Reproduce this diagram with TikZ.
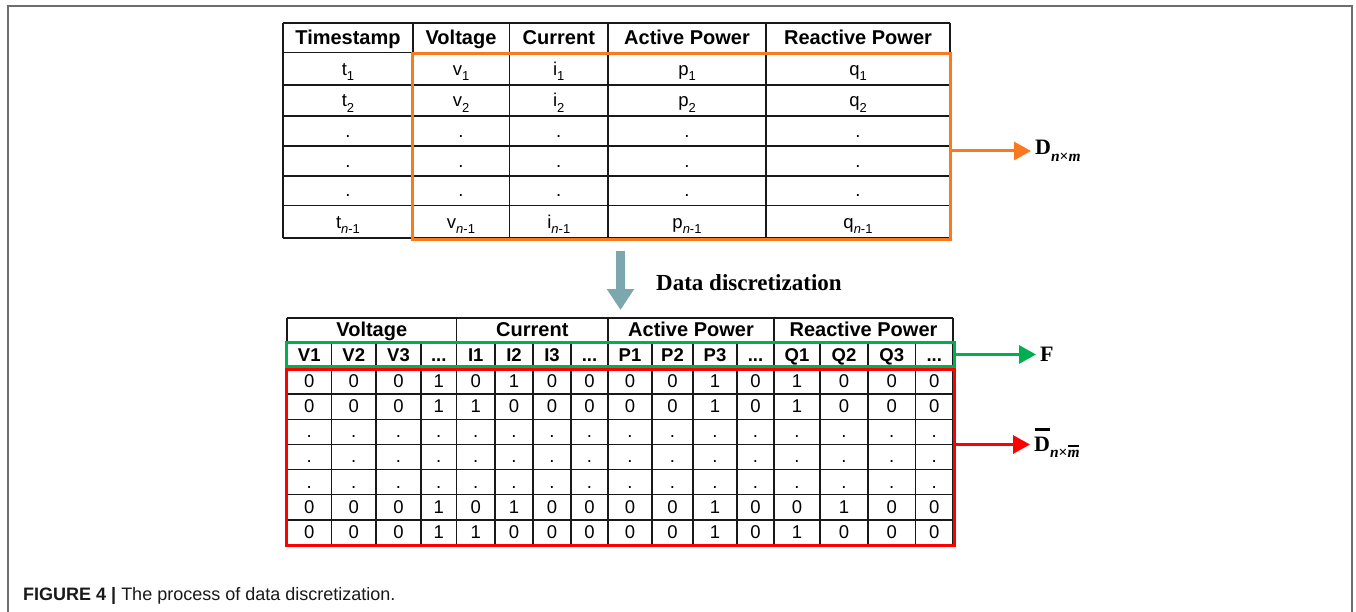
\documentclass[tikz,border=0pt]{standalone}
\usepackage{fontspec}
\setmainfont{Liberation Sans}
\newfontfamily\tnr{Liberation Serif}
\usetikzlibrary{arrows.meta}
\definecolor{myorange}{RGB}{250,120,30}
\definecolor{mygreen}{RGB}{0,176,80}
\definecolor{myred}{RGB}{255,0,0}
\definecolor{arrowgray}{RGB}{123,167,174}
\definecolor{framegray}{RGB}{110,110,110}
\newcommand\lo[1]{\raisebox{-0.28em}{\fontsize{13}{13}\selectfont #1}}
\newcommand\lolab[1]{\raisebox{-0.3em}{\fontsize{15.5}{15.5}\selectfont #1}}
\newcommand\nsub{\lo{\textit{n}-1}}
\newcommand\mydots{...}
\newcommand\onedot{.}
\newcommand\barover[3]{% #1 gap, #2 thickness, #3 content
  \setbox0\hbox{#3}\vbox{\offinterlineskip\hbox to \wd0{\hfil\rule{0.95\wd0}{#2}\hfil}\kern#1\box0}}
\def\colsarr{{309.3,353.8,398.5,438.8,475.8,514,552,589.5,630,672.5,715,755.5,797,844,891.7,934.2}}
\newcommand\datarow[3]{%
  \foreach \v [count=\c] in {#3} {%
    \pgfmathsetmacro\xx{\colsarr[\c-1]}%
    \node[cell] (#1-\c) at (\xx,#2) {\v};}}
\newcommand\subrow[3]{%
  \foreach \v [count=\c] in {#3} {%
    \pgfmathsetmacro\xx{\colsarr[\c-1]}%
    \node[subhd] (#1-\c) at (\xx,#2) {\v};}}
\begin{document}
\begin{tikzpicture}[x=1pt,y=-1pt,
  gridline/.style={line width=1.5pt, black!90},
  hd/.style={font=\fontsize{20}{22}\selectfont\bfseries, anchor=base, inner sep=0},
  subhd/.style={font=\fontsize{18.5}{22}\selectfont\bfseries, anchor=base, inner sep=0},
  cell/.style={font=\fontsize{18.5}{22}\selectfont, anchor=base, inner sep=0},
  hlbox/.style={draw=#1, line width=3pt, inner sep=0, fill=none},
  hlarrow/.style={draw=#1, line width=3pt, -{Triangle[width=18pt,length=17pt]}, #1, shorten >=4pt},
  lab/.style={anchor=west, inner sep=0, font=\tnr\bfseries\fontsize{22}{22}\selectfont},
  bigarrow/.style={draw=arrowgray, line width=9pt, -{Triangle[width=26pt,length=21pt]}, arrowgray}
]
\useasboundingbox (0,0) rectangle (1356,612);
\fill[white] (0,0) rectangle (1356,612);
% frame
\draw[framegray, line width=1.6pt] (8,612) -- (8,6) -- (1352,6) -- (1352,612);

% ---------- top table ----------
\foreach \y in {23,52.5,85,116,146,176,205.5,238}
  \draw[gridline] (283,\y) -- (950,\y);
\foreach \x in {283,413,509.5,608,766,950}
  \draw[gridline] (\x,23) -- (\x,238);
\foreach \x/\t [count=\i] in {348/Timestamp,461/Voltage,558.8/Current,687/Active Power,858/Reactive Power}
  \node[hd] (th-\i) at (\x,44.5) {\t};
\foreach \x/\l [count=\i] in {348/t,461/v,558.8/i,687/p,858/q} {
  \node[cell] (ta-\i) at (\x,75.5) {\l\lo{1}};
  \node[cell] (tb-\i) at (\x,107) {\l\lo{2}};
  \node[cell] (tc-\i) at (\x,137.5) {.};
  \node[cell] (td-\i) at (\x,167.5) {.};
  \node[cell] (te-\i) at (\x,197) {.};
  \node[cell] (tf-\i) at (\x,228.5) {\l\nsub};
}
\node[hlbox=myorange, minimum width=537.3pt, minimum height=186pt] (orect) at (681.35,147) {};

% ---------- gray arrow and text ----------
\coordinate (gs) at (620.5,251);
\coordinate (ge) at (620.5,310);
\draw[bigarrow] (gs) -- (ge);
\node[anchor=west, inner sep=0, font=\tnr\bfseries\fontsize{23}{23}\selectfont] (dd) at (656,283) {Data discretization};

% ---------- bottom table ----------
\foreach \y in {318,343,369,394.1,419.3,444.4,469.6,494.7,519.9,545}
  \draw[gridline] (287,\y) -- (953,\y);
\foreach \x in {287,456.7,608,774,953}
  \draw[gridline] (\x,318) -- (\x,545);
\foreach \x in {331.7,376,421,495,533,571,652,693,737,820,868,915.5}
  \draw[gridline] (\x,343) -- (\x,545);
\foreach \x/\t [count=\i] in {371.8/Voltage,532.3/Current,691/Active Power,863.5/Reactive Power}
  \node[hd] (bh-\i) at (\x,336) {\t};
\subrow{bs}{361.5}{V1,V2,V3,\mydots,I1,I2,I3,\mydots,P1,P2,P3,\mydots,Q1,Q2,Q3,\mydots}
\datarow{ra}{387.5}{0,0,0,1,0,1,0,0,0,0,1,0,1,0,0,0}
\datarow{rb}{412.6}{0,0,0,1,1,0,0,0,0,0,1,0,1,0,0,0}
\datarow{rc}{437.8}{\onedot,\onedot,\onedot,\onedot,\onedot,\onedot,\onedot,\onedot,\onedot,\onedot,\onedot,\onedot,\onedot,\onedot,\onedot,\onedot}
\datarow{rd}{462.9}{\onedot,\onedot,\onedot,\onedot,\onedot,\onedot,\onedot,\onedot,\onedot,\onedot,\onedot,\onedot,\onedot,\onedot,\onedot,\onedot}
\datarow{re}{488}{\onedot,\onedot,\onedot,\onedot,\onedot,\onedot,\onedot,\onedot,\onedot,\onedot,\onedot,\onedot,\onedot,\onedot,\onedot,\onedot}
\datarow{rf}{513.2}{0,0,0,1,0,1,0,0,0,0,1,0,0,1,0,0}
\datarow{rg}{538.3}{0,0,0,1,1,0,0,0,0,0,1,0,1,0,0,0}
\node[hlbox=mygreen, minimum width=668pt, minimum height=24.4pt] (grect) at (620.5,354.5) {};
\node[hlbox=myred, minimum width=668pt, minimum height=175.7pt] (rrect) at (620.5,457.2) {};

% ---------- labels and arrows ----------
\node[lab] (dlab) at (1035,151) {D\lolab{\textit{n}×\textit{m}}};
\node[lab] (flab) at (1040,354.5) {F};
\node[lab] (dbar) at (1034,443) {\barover{6pt}{2.6pt}{D}\lolab{\textit{n}×\barover{3.5pt}{1.8pt}{\textit{m}}}};
\draw[hlarrow=myorange] (dlab.west -| orect.east) -- (dlab.west);
\draw[hlarrow=mygreen] (flab.west -| grect.east) -- (flab.west);
\draw[hlarrow=myred] (rrect.east |- 0,444.5) -- (dbar.west |- 0,444.5);

% ---------- caption ----------
\node[anchor=base west, inner sep=0, font=\fontsize{18}{20}\selectfont, text=black!90] (cap) at (23,600) {\textbf{FIGURE 4 |} The process of data discretization.};
\end{tikzpicture}
\end{document}
